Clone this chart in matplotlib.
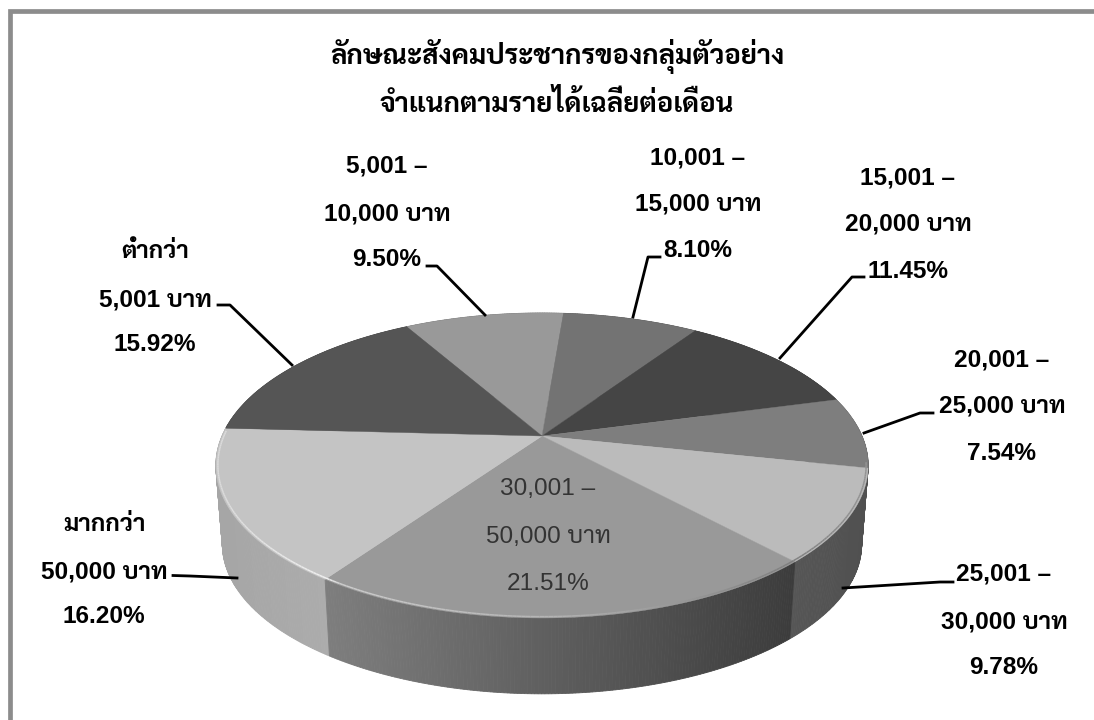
import numpy as np
import matplotlib
matplotlib.use("Agg")
from matplotlib import pyplot as plt

# income groups, clockwise from the top-left of the disc
categories = ["5,001 –\n10,000 บาท", "10,001 –\n15,000 บาท", "15,001 –\n20,000 บาท",
              "20,001 –\n25,000 บาท", "25,001 –\n30,000 บาท", "30,001 –\n50,000 บาท",
              "มากกว่า\n50,000 บาท", "ต่ำกว่า\n5,001 บาท"]
shares = [9.50, 8.10, 11.45, 7.54, 9.78, 21.51, 16.20, 15.92]
title_lines = ["ลักษณะสังคมประชากรของกลุ่มตัวอย่าง", "จำแนกตามรายได้เฉลี่ยต่อเดือน"]

face_grays = [153, 115, 69, 126, 187, 153, 196, 85]
# wall shading at left/right end of each slice
wall_grays = [(120, 120), (90, 90), (60, 60), (100, 100), (86, 80), (126, 60), (166, 172), (70, 70)]

plt.rcParams["font.family"] = ["Liberation Sans", "Sarabun", "DejaVu Sans"]

W, H = 1094, 720
fig = plt.figure(figsize=(W / 100, H / 100), dpi=100)
ax = fig.add_axes([0, 0, 1, 1])
ax.set_xlim(0, W)
ax.set_ylim(H, 0)
ax.axis("off")

# frame, only top and left show
ax.plot([9.5, 9.5, W], [H, 10.5, 10.5], color="#8c8c8c", lw=3.4, solid_joinstyle="miter")

# perspective projection of the unit disc
CX, CY = 542, 436
A, B, K = 320.0, 146.8, 0.1933
START = -29.6


def project(theta, radius=1.0, scale=1.0, drop=0.0):
    t = np.radians(theta)
    u = radius * np.sin(t)
    v = radius * np.cos(t)
    d = 1 + K * v
    return CX + scale * A * u / d, CY + drop - scale * B * v / d


edges = START + np.cumsum([0] + shares) * 3.6

# wall, back to front
SCALE_LOW, DROP = 0.98, 79.5
steps = []
for i in range(len(shares)):
    a0, a1 = edges[i], edges[i + 1]
    n = max(int((a1 - a0) * 2), 2)
    tt = np.linspace(a0, a1, n + 1)
    x0, _ = project(a0)
    x1, _ = project(a1)
    lo, hi = min(x0, x1), max(x0, x1)
    for j in range(n):
        mid = (tt[j] + tt[j + 1]) / 2
        xm, _ = project(mid)
        frac = (xm - lo) / (hi - lo)
        g = np.interp(frac, [0, 1], wall_grays[i]) / 255
        steps.append((np.cos(np.radians(mid)), tt[j], tt[j + 1], g))
steps.sort(key=lambda s: -s[0])
for _, t0, t1, g in steps:
    xa, ya = project(np.array([t0, t1]))
    xb, yb = project(np.array([t1, t0]), scale=SCALE_LOW, drop=DROP)
    ax.fill(np.r_[xa, xb], np.r_[ya, yb], color=(g, g, g), lw=0.6)

# top face
for i in range(len(shares)):
    tt = np.linspace(edges[i], edges[i + 1], 80)
    x, y = project(tt)
    g = face_grays[i] / 255
    ax.fill(np.r_[CX, x], np.r_[CY, y], color=(g, g, g), lw=0.3)

# bevel along the near rim
rim_t = np.linspace(100, 272, 260)
for t0, t1 in zip(rim_t[:-1], rim_t[1:]):
    x, y = project(np.array([t0, t1]), radius=0.994)
    xm = x.mean()
    g = np.interp(xm, [225, 328, 340, 560, 790, 868], [0.86, 0.94, 0.80, 0.70, 0.50, 0.58])
    ax.plot(x, y, color=(g, g, g), lw=1.1, solid_capstyle="butt")

# leader lines
leaders = [
    ([427, 437, 485], [266, 266, 315]),
    ([660, 648, 633], [257, 257, 317]),
    ([864, 852, 780], [277, 277, 358]),
    ([933, 920, 864], [413, 413, 433]),
    ([953, 940, 843], [582, 582, 588]),
    ([173, 190, 237], [575.5, 576, 578]),
    ([218, 230, 292], [305, 305, 365]),
]
for xs, ys in leaders:
    ax.plot(xs, ys, color="black", lw=2.0)

# data labels
label_pos = [
    (387, [165, 212, 258]),
    (698, [156, 203, 249]),
    (908, [176, 223, 270]),
    (1002, [358, 405, 452]),
    (1004, [573, 620, 666]),
    (548, [488, 535, 582]),
    (104, [523, 570, 615]),
    (155, [250, 298, 343]),
]
for i, (name, share) in enumerate(zip(categories, shares)):
    lines = name.split("\n") + [f"{share:.2f}%"]
    xc, ys = label_pos[i]
    inside = i == 5
    for line, y in zip(lines, ys):
        ax.text(xc, y + 1.5, line, ha="center", va="center", fontsize=17.6,
                color="#333333" if inside else "black",
                fontweight="normal" if inside else "bold")

for line, y in zip(title_lines, [57, 104]):
    ax.text(557, y, line, ha="center", va="center", fontsize=19.8, fontweight="bold", color="black")

fig.savefig("out.png", dpi=100)
